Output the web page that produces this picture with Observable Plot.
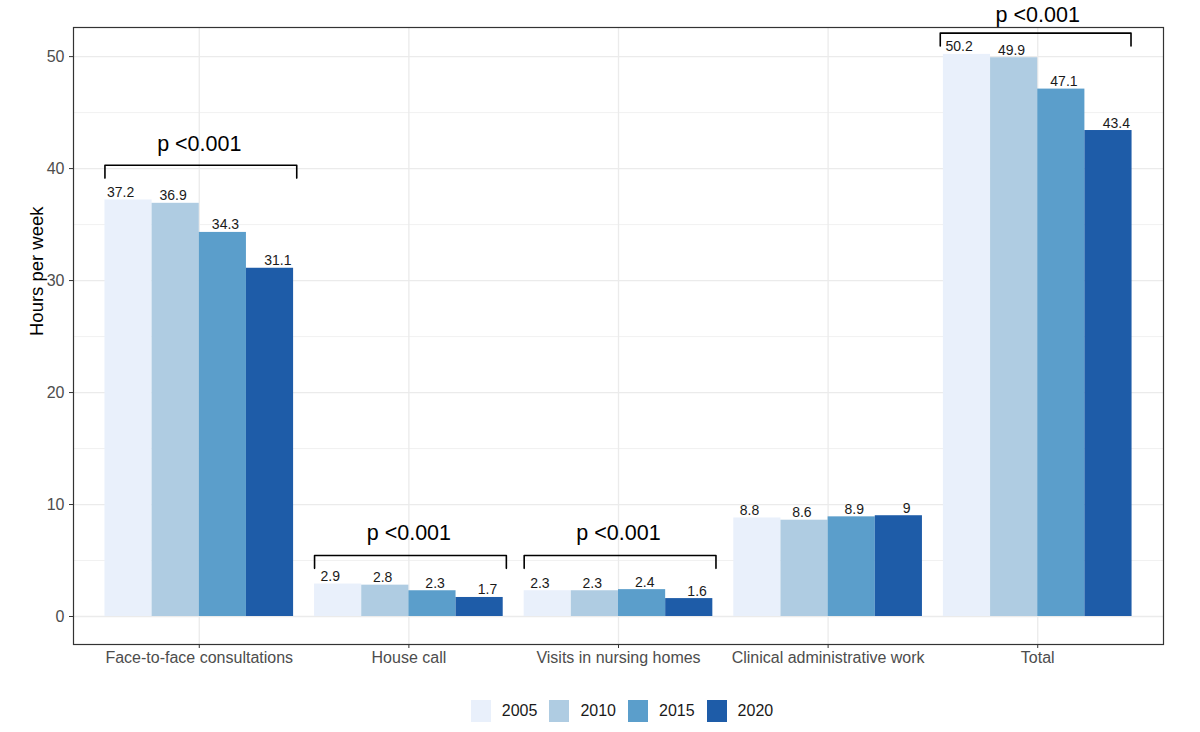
<!DOCTYPE html>
<html><head><meta charset="utf-8">
<script src="https://cdn.jsdelivr.net/npm/d3@7"></script>
<script src="https://cdn.jsdelivr.net/npm/@observablehq/plot@0.6"></script>
<style>
body{margin:0;background:#fff;font-family:"Liberation Sans",Arial,sans-serif;}
#legend{display:flex;justify-content:center;align-items:center;height:42px;font-size:16px;color:#1a1a1a;padding-left:44px;box-sizing:border-box;width:1200px;}
.item{display:flex;align-items:center;margin:0 6px;}
.sw{width:20px;height:22px;margin-right:11px;}
</style></head>
<body><div id="chart"></div><div id="legend"></div>
<script>
const categories = ["Face-to-face consultations","House call","Visits in nursing homes","Clinical administrative work","Total"];
const years = ["2005","2010","2015","2020"];
const v2005 = [37.2, 2.9, 2.3, 8.8, 50.2];
const v2010 = [36.9, 2.8, 2.3, 8.6, 49.9];
const v2015 = [34.3, 2.3, 2.4, 8.9, 47.1];
const v2020 = [31.1, 1.7, 1.6, 9, 43.4];
const colors = ["#e9f0fb","#afcce2","#5b9ecb","#1e5ca8"];
const yTicks = [0,10,20,30,40,50];
const yMinor = [5,15,25,35,45];
// significance annotations
const sigIndex = [0,1,2,4];
const sigText = ["p <0.001","p <0.001","p <0.001","p <0.001"];
const bracketY = [40.3, 5.45, 5.45, 52.1];
const bracketLo = [-0.45,-0.45,-0.45,-0.465];
const bracketHi = [0.465,0.465,0.465,0.445];
const labelRise = [1.9, 2.0, 2.0, 1.65];
const bracketDrop = 1.15;

const series = [v2005,v2010,v2015,v2020];
const barW = 0.9/years.length;
const rows = [];
categories.forEach((c,i)=>{
  years.forEach((yr,j)=>{
    const x1 = i+1-0.45+j*barW;
    rows.push({cat:i+1, year:yr, value:series[j][i], x1, x2:x1+barW, lx:i+1+(j-1.5)*0.25});
  });
});
const bracketPts = [];
sigIndex.forEach((ci,k)=>{
  const c = ci+1, y = bracketY[k];
  const lo = c+bracketLo[k], hi = c+bracketHi[k];
  bracketPts.push({k,x:lo,y:y-bracketDrop},{k,x:lo,y},{k,x:hi,y},{k,x:hi,y:y-bracketDrop});
});
const sigLabels = sigIndex.map((ci,k)=>({x:ci+1, y:bracketY[k]+labelRise[k], t:sigText[k]}));

const chart = Plot.plot({
  width:1200, height:690,
  marginLeft:73, marginRight:37, marginTop:27, marginBottom:46,
  style:{fontFamily:'"Liberation Sans",Arial,sans-serif', background:"#fff", overflow:"visible"},
  x:{type:"linear", domain:[0.4,5.6], axis:null},
  y:{domain:[-2.5,52.6], axis:null},
  color:{domain:years, range:colors},
  marks:[
    Plot.ruleY(yMinor,{stroke:"#ebebeb",strokeWidth:0.7}),
    Plot.ruleY(yTicks,{stroke:"#ebebeb",strokeWidth:1.3}),
    Plot.ruleX(categories.map((c,i)=>i+1),{stroke:"#ebebeb",strokeWidth:1.3}),
    Plot.rect(rows,{x1:"x1",x2:"x2",y1:0,y2:"value",fill:"year"}),
    Plot.text(rows,{x:"lx",y:"value",text:d=>String(d.value),lineAnchor:"bottom",dy:-3,fontSize:14,fill:"#1a1a1a"}),
    Plot.line(bracketPts,{x:"x",y:"y",z:"k",stroke:"#000",strokeWidth:1.6}),
    Plot.text(sigLabels,{x:"x",y:"y",text:"t",fontSize:21.5,fill:"#000",clip:false}),
    Plot.frame({stroke:"#333",strokeWidth:1.2}),
    Plot.axisY({ticks:yTicks,tickSize:4,tickPadding:5,fontSize:16,fill:"#4d4d4d",stroke:"#333",label:null}),
    Plot.axisX({ticks:categories.map((c,i)=>i+1),tickFormat:i=>categories[i-1],tickSize:4,tickPadding:3,fontSize:16,fill:"#4d4d4d",stroke:"#333",label:null}),
    Plot.text(["Hours per week"],{frameAnchor:"left",dx:-36,rotate:-90,fontSize:18.5,fill:"#000"})
  ]
});
document.getElementById("chart").appendChild(chart);
const lg = document.getElementById("legend");
years.forEach((yr,j)=>{
  const it = document.createElement("div"); it.className="item";
  const sw = document.createElement("div"); sw.className="sw"; sw.style.background=colors[j];
  const tx = document.createElement("span"); tx.textContent=yr;
  it.appendChild(sw); it.appendChild(tx); lg.appendChild(it);
});
</script></body></html>
